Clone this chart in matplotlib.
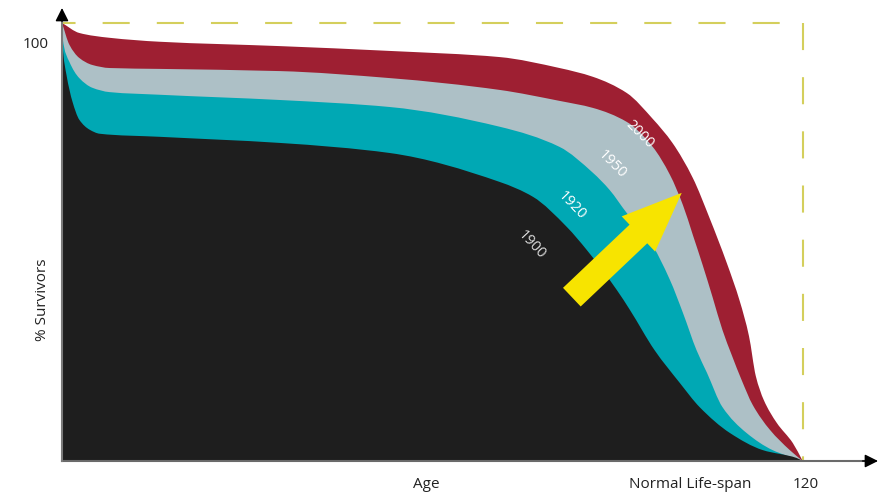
import numpy as np
import matplotlib.pyplot as plt
from matplotlib.path import Path
from matplotlib.patches import PathPatch

plt.rcParams['font.family'] = ['Open Sans', 'DejaVu Sans']

# survival curves: age (years) vs % still alive
age_2000 = [0, 2.8, 7.7, 15.8, 35.3, 53.1, 70.9, 80.6, 86.0, 91.5, 95.7, 98.9,
            102.2, 104.9, 107.7, 109.8, 111.3, 112.4, 113.7, 115.8, 118.4, 120]
pct_2000 = [100, 97.7, 96.6, 95.7, 94.7, 93.6, 92.2, 89.7, 87.7, 84.0, 78.1, 72.6,
            64.6, 55.5, 45.2, 36.5, 28.5, 19.4, 13.9, 8.7, 4.1, 0]

age_1950 = [0, 1.2, 2.8, 4.9, 7.7, 15.8, 35.3, 53.1, 70.9, 80.6, 86.0, 91.5, 95.7,
            98.5, 100.6, 102.2, 103.8, 105.4, 107.0, 108.5, 110.1, 111.9, 114.7,
            117.9, 120]
pct_1950 = [100, 95.0, 92.0, 90.4, 89.7, 89.5, 89.0, 87.4, 84.7, 82.2, 80.6, 77.4, 71.7,
            65.3, 58.4, 51.6, 44.7, 37.4, 29.9, 24.2, 18.5, 12.8, 7.1,
            2.5, 0]

age_1920 = [0, 0.1, 1.2, 2.8, 4.9, 7.7, 15.8, 35.3, 53.1, 70.9, 80.6, 86.0, 88.7,
            91.5, 95.2, 98.5, 100.6, 102.8, 104.5, 107.0, 110.9, 115.1, 120]
pct_1920 = [100, 96.6, 91.1, 87.4, 85.2, 84.2, 83.6, 82.4, 80.8, 76.3, 71.7, 65.8, 61.9,
            56.6, 50.3, 41.3, 33.8, 25.3, 20.1, 12.3, 6.4, 2.5, 0]

age_1900 = [0, 0.1, 0.73, 1.7, 2.8, 4.5, 6.1, 15.8, 35.3, 53.1, 70.9, 76.3, 81.8,
            85.0, 89.9, 92.0, 96.0, 100.1, 103.3, 108.2, 113.5, 119.0, 120]
pct_1900 = [100, 95.0, 88.1, 82.0, 77.9, 75.6, 74.7, 74.0, 72.6, 70.3, 63.7, 60.3, 53.4,
            48.2, 39.0, 34.5, 25.3, 17.8, 12.3, 6.4, 2.5, 0.7, 0]

years = ['2000', '1950', '1920', '1900']
colors = ['#9e1f32', '#adc0c6', '#00a8b4', '#1e1e1e']
curves = [(age_2000, pct_2000), (age_1950, pct_1950),
          (age_1920, pct_1920), (age_1900, pct_1900)]

# where each year label sits (age, %) and its angle
label_pos = [(93.6, 74.6), (89.1, 67.8), (82.6, 58.4), (76.1, 49.3)]
label_rot = [-45, -45, -46, -47]
label_col = ['white', 'white', 'white', '#dddddd']

life_span = 120
max_age = 132.2
max_pct = 103.4


def smooth_area(x, y):
    """Closed bezier path under a curve, monotone (Fritsch-Carlson) tangents."""
    x = np.asarray(x, float)
    y = np.asarray(y, float)
    h = np.diff(x)
    d = np.diff(y) / h
    m = np.empty_like(y)
    m[0], m[-1] = d[0], d[-1]
    for i in range(1, len(x) - 1):
        if d[i - 1] * d[i] <= 0:
            m[i] = 0
        else:
            w1 = 2 * h[i] + h[i - 1]
            w2 = h[i] + 2 * h[i - 1]
            m[i] = (w1 + w2) / (w1 / d[i - 1] + w2 / d[i])
    verts = [(x[0], 0), (x[0], y[0])]
    codes = [Path.MOVETO, Path.LINETO]
    for i in range(len(x) - 1):
        verts += [(x[i] + h[i] / 3, y[i] + m[i] * h[i] / 3),
                  (x[i + 1] - h[i] / 3, y[i + 1] - m[i + 1] * h[i] / 3),
                  (x[i + 1], y[i + 1])]
        codes += [Path.CURVE4] * 3
    verts += [(x[-1], 0), (x[0], 0)]
    codes += [Path.LINETO, Path.CLOSEPOLY]
    return Path(verts, codes)


fig = plt.figure(figsize=(8.85, 4.95), dpi=100)
ax = fig.add_axes([62 / 885, 34 / 495, 816 / 885, 453 / 495])
ax.set_xlim(0, max_age)
ax.set_ylim(0, max_pct)
ax.axis('off')

for (a, p), c in zip(curves, colors):
    ax.add_patch(PathPatch(smooth_area(a, p), fc=c, ec='none', lw=0))

for yr, (x, y), r, c in zip(years, label_pos, label_rot, label_col):
    ax.text(x, y, yr, rotation=r, color=c, fontsize=10.5, ha='center', va='center',
            rotation_mode='anchor')

# the 100% / 120 year limits
ax.plot([0, life_span], [100, 100], color='#d4cf5c', lw=1.5,
        linestyle=(6.5, (13, 13)), zorder=3)
ax.plot([life_span, life_span], [100, 0], color='#d4cf5c', lw=1.5,
        linestyle=(0, (13, 13)), zorder=3)

# big yellow "progress" arrow
ax.annotate('', xy=(100.4, 61.2), xytext=(82.6, 37.4),
            arrowprops=dict(arrowstyle='simple,head_length=4.3,head_width=3.5,tail_width=1.85',
                            mutation_scale=10, fc='#f7e400', ec='none', lw=0,
                            shrinkA=0, shrinkB=0), zorder=4)

# axes with arrow heads
ax.plot([0, max_age - 1.5], [0, 0], color='#6a6a6a', lw=1.5, clip_on=False, zorder=5)
ax.plot([0, 0], [0, max_pct - 2.5], color='#7a7a7a', lw=1.5, clip_on=False, zorder=5)
ax.annotate('', xy=(max_age, 0), xytext=(max_age - 2.5, 0), annotation_clip=False,
            arrowprops=dict(arrowstyle='-|>', color='black', lw=1, mutation_scale=20,
                            shrinkA=0, shrinkB=0), zorder=6)
ax.annotate('', xy=(0, max_pct), xytext=(0, max_pct - 3), annotation_clip=False,
            arrowprops=dict(arrowstyle='-|>', color='black', lw=1, mutation_scale=20,
                            shrinkA=0, shrinkB=0), zorder=6)

txt = dict(fontsize=11, color='#222222', ha='center', va='center')
fig.text(36 / 885, 1 - 45 / 495, '100', **txt)
fig.text(42 / 885, 1 - 300 / 495, '% Survivors', rotation=90, **txt)
fig.text(426 / 885, 1 - 484 / 495, 'Age', **txt)
fig.text(690 / 885, 1 - 484 / 495, 'Normal Life-span', **txt)
fig.text(806 / 885, 1 - 484 / 495, '120', **txt)

fig.savefig('out.png', dpi=100)
